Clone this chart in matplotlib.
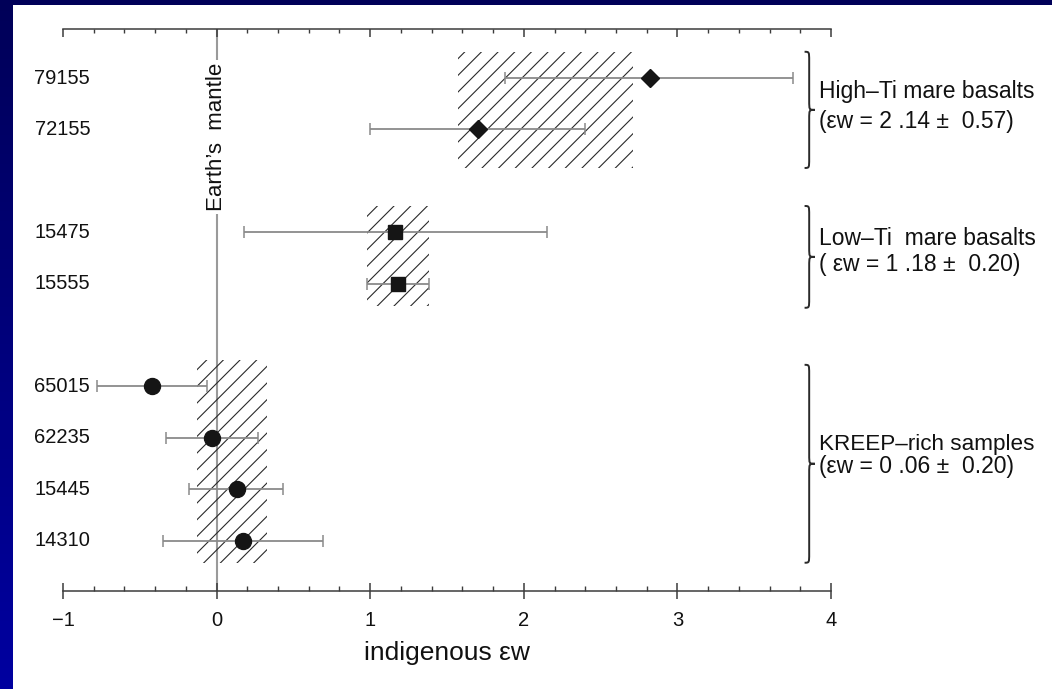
import numpy as np
import matplotlib
matplotlib.use("Agg")
import matplotlib.pyplot as plt
from matplotlib.path import Path
from matplotlib.patches import PathPatch, Rectangle
from matplotlib.colors import LinearSegmentedColormap

plt.rcParams['font.family'] = ['Liberation Sans', 'DejaVu Sans']
plt.rcParams['hatch.linewidth'] = 0.8

# ---------------- data ----------------
samples = ['79155', '72155', '15475', '15555', '65015', '62235', '15445', '14310']
sample_group = [0, 0, 1, 1, 2, 2, 2, 2]
ew_value = [2.82, 1.70, 1.16, 1.18, -0.42, -0.03, 0.13, 0.17]
ew_low = [1.88, 1.00, 0.18, 0.98, -0.78, -0.33, -0.18, -0.35]
ew_high = [3.75, 2.40, 2.15, 1.38, -0.06, 0.27, 0.43, 0.69]

group_names = ['High\u2013Ti mare basalts', 'Low\u2013Ti  mare basalts', 'KREEP\u2013rich samples']
group_stats = ['(\u03b5w = 2 .14 \u00b1  0.57)', '( \u03b5w = 1 .18 \u00b1  0.20)', '(\u03b5w = 0 .06 \u00b1  0.20)']
band_low = [1.57, 0.98, -0.13]
band_high = [2.71, 1.38, 0.33]

x_ticks = [-1, 0, 1, 2, 3, 4]
x_label = 'indigenous \u03b5w'
mantle_label = 'Earth\u2019s  mantle'

# ---------------- style / layout ----------------
group_markers = ['D', 's', 'o']
group_msize = [9.5, 9.5, 11.5]
name_dy = [-0.36, -0.35, -0.37]
stats_dy = [0.23, 0.14, 0.06]
name_size = [16.5, 16.5, 16.2]
mark_col = '#151515'
err_col = '#8a8a8a'
axis_col = '#3c3c3c'

# row layout: groups separated by one empty row
row_y = []
pos = 1
prev = sample_group[0]
for g in sample_group:
    if g != prev:
        pos += 1
        prev = g
    row_y.append(pos)
    pos += 1
row_y = np.array(row_y, dtype=float)

W, H = 1052, 689
fig = plt.figure(figsize=(W / 100, H / 100), dpi=100)

# slide background (blue frame at left and top)
bg = fig.add_axes([0, 0, 1, 1], zorder=-10)
grad = np.linspace(0, 1, 256).reshape(-1, 1)
cmap = LinearSegmentedColormap.from_list('slide', ['#000058', '#0000a0'])
bg.imshow(grad, aspect='auto', cmap=cmap, extent=[0, 1, 0, 1], origin='upper')
bg.add_patch(Rectangle((13 / W, 0), 1, 1 - 5 / H, facecolor='white', edgecolor='none'))
bg.set_xlim(0, 1)
bg.set_ylim(0, 1)
bg.axis('off')

ax = fig.add_axes([63 / W, 1 - 591 / H, (831 - 63) / W, (591 - 28.5) / H])
ax.set_facecolor('none')
ax.set_xlim(-1, 4)
ax.set_ylim(10.98, 0.037)

for s in ['left', 'right']:
    ax.spines[s].set_visible(False)
for s in ['top', 'bottom']:
    ax.spines[s].set_color(axis_col)
    ax.spines[s].set_linewidth(1.1)

ax.set_yticks([])
ax.set_xticks(x_ticks)
ax.set_xticks(np.arange(-1, 4.01, 0.2), minor=True)
ax.tick_params(axis='x', which='major', direction='inout', length=12, width=1.1,
               color=axis_col, labelsize=14.5, pad=8.5, labelcolor='#111111')
ax.tick_params(axis='x', which='minor', direction='in', length=3.6, width=1.0, color=axis_col)
ax.set_xlabel(x_label, fontsize=19, labelpad=8, color='#111111')

top = ax.twiny()
top.set_xlim(ax.get_xlim())
top.set_xticks(x_ticks)
top.set_xticks(np.arange(-1, 4.01, 0.2), minor=True)
top.tick_params(axis='x', which='major', direction='in', length=5.5, width=1.1,
                color=axis_col, labeltop=False)
top.tick_params(axis='x', which='minor', direction='in', length=2.6, width=1.0, color=axis_col)
for s in ['left', 'right', 'bottom', 'top']:
    top.spines[s].set_visible(False)

# zero line (Earth's mantle)
ax.axvline(0, color='#9a9a9a', lw=1.5, zorder=1)
ax.text(0, 2.15, mantle_label, rotation=90, ha='center', va='center', fontsize=16,
        color='#111111', zorder=3,
        bbox=dict(facecolor='white', edgecolor='none', pad=2))

# hatched group bands, braces and labels
for gi in range(len(group_names)):
    ys = row_y[np.array(sample_group) == gi]
    y0 = ys.min() - 0.51
    y1 = ys.max() + (0.75 if gi == 0 else 0.43)
    ax.fill_betweenx([y0, y1], band_low[gi], band_high[gi], facecolor='none',
                     edgecolor='#2a2a2a', hatch='//', linewidth=0, zorder=2)

    # brace
    by0 = ys.min() - 0.51 if gi != 2 else ys.min() - 0.42
    by1 = y1 + (0.0 if gi != 1 else 0.04)
    ym = (by0 + by1) / 2
    xa, xb, xt = 3.828, 3.858, 3.895
    c = 0.18
    verts = [(xa, by0), (xb, by0), (xb, by0), (xb, by0 + c),
             (xb, ym - c),
             (xb, ym), (xb, ym), (xt, ym),
             (xb, ym), (xb, ym), (xb, ym + c),
             (xb, by1 - c),
             (xb, by1), (xb, by1), (xa, by1)]
    codes = [Path.MOVETO, Path.CURVE4, Path.CURVE4, Path.CURVE4,
             Path.LINETO,
             Path.CURVE4, Path.CURVE4, Path.CURVE4,
             Path.CURVE4, Path.CURVE4, Path.CURVE4,
             Path.LINETO,
             Path.CURVE4, Path.CURVE4, Path.CURVE4]
    ax.add_patch(PathPatch(Path(verts, codes), facecolor='none', edgecolor='#2a2a2a',
                           lw=1.4, clip_on=False, zorder=3))
    ax.text(3.92, ym + name_dy[gi], group_names[gi], ha='left', va='center',
            fontsize=name_size[gi], color='#111111', clip_on=False)
    ax.text(3.925, ym + stats_dy[gi], group_stats[gi], ha='left', va='center',
            fontsize=16.5, color='#111111', clip_on=False)

# data points with error bars
for gi in range(len(group_names)):
    idx = [i for i, g in enumerate(sample_group) if g == gi]
    xv = np.array([ew_value[i] for i in idx])
    lo = np.array([ew_low[i] for i in idx])
    hi = np.array([ew_high[i] for i in idx])
    ax.errorbar(xv, row_y[idx], xerr=[xv - lo, hi - xv], fmt=group_markers[gi],
                ms=group_msize[gi], mfc=mark_col, mec=mark_col, ecolor=err_col,
                elinewidth=1.3, capsize=4, capthick=1.1, zorder=4)

# sample labels
for i, name in enumerate(samples):
    ax.text(-0.823, row_y[i], name, ha='right', va='center', fontsize=14.5,
            color='#111111', clip_on=False)

fig.savefig('out.png', dpi=100)
